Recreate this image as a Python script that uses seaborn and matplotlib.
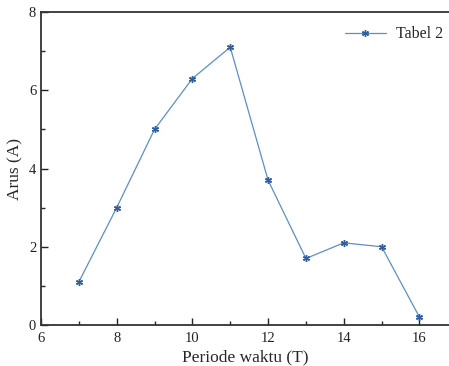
import matplotlib
matplotlib.use("Agg")
import matplotlib.pyplot as plt
import seaborn as sns
import pandas as pd
from matplotlib.ticker import MultipleLocator

periode = [7, 8, 9, 10, 11, 12, 13, 14, 15, 16]
arus = [1.1, 3.0, 5.0, 6.3, 7.1, 3.7, 1.7, 2.1, 2.0, 0.2]
series_name = "Tabel 2"

df = pd.DataFrame({"Periode waktu (T)": periode, "Arus (A)": arus, "s": series_name})

sns.set_style("ticks")
plt.rcParams['font.family'] = ['Liberation Serif', 'DejaVu Serif']

fig = plt.figure(figsize=(4.49, 3.66), dpi=100)
ax = fig.add_axes([41/449, 1 - 325/366, 1 - 41/449, (325 - 12)/366])

sns.lineplot(data=df, x="Periode waktu (T)", y="Arus (A)", hue="s",
             palette=["#5b8fc9"], marker=(6, 2, 0), markersize=5,
             markerfacecolor="#2f5f9e", markeredgecolor="#2f5f9e", markeredgewidth=1.0,
             linewidth=0.9, ax=ax)

ax.set_xlim(6, 16.78)
ax.set_ylim(0, 8)
ax.xaxis.set_major_locator(MultipleLocator(2))
ax.xaxis.set_minor_locator(MultipleLocator(1))
ax.yaxis.set_major_locator(MultipleLocator(2))
ax.yaxis.set_minor_locator(MultipleLocator(1))
ax.tick_params(which="major", direction="in", length=5, width=1, labelsize=10.5, colors="#222222")
ax.tick_params(which="minor", direction="in", length=3, width=1)
ax.tick_params(axis="x", pad=5)
for s in ["left", "bottom", "top"]:
    ax.spines[s].set_linewidth(1.3)
    ax.spines[s].set_color("#333333")
ax.spines["right"].set_visible(False)
ax.set_xlabel("Periode waktu (T)", fontsize=12.5, labelpad=3)
ax.set_ylabel("Arus (A)", fontsize=12.5, labelpad=4)

leg = ax.legend(loc="upper right", frameon=False, fontsize=11.5, handlelength=2.6,
                handletextpad=0.6, bbox_to_anchor=(1.02, 1.0))
leg.set_title(None)

fig.savefig("out.png", dpi=100)
